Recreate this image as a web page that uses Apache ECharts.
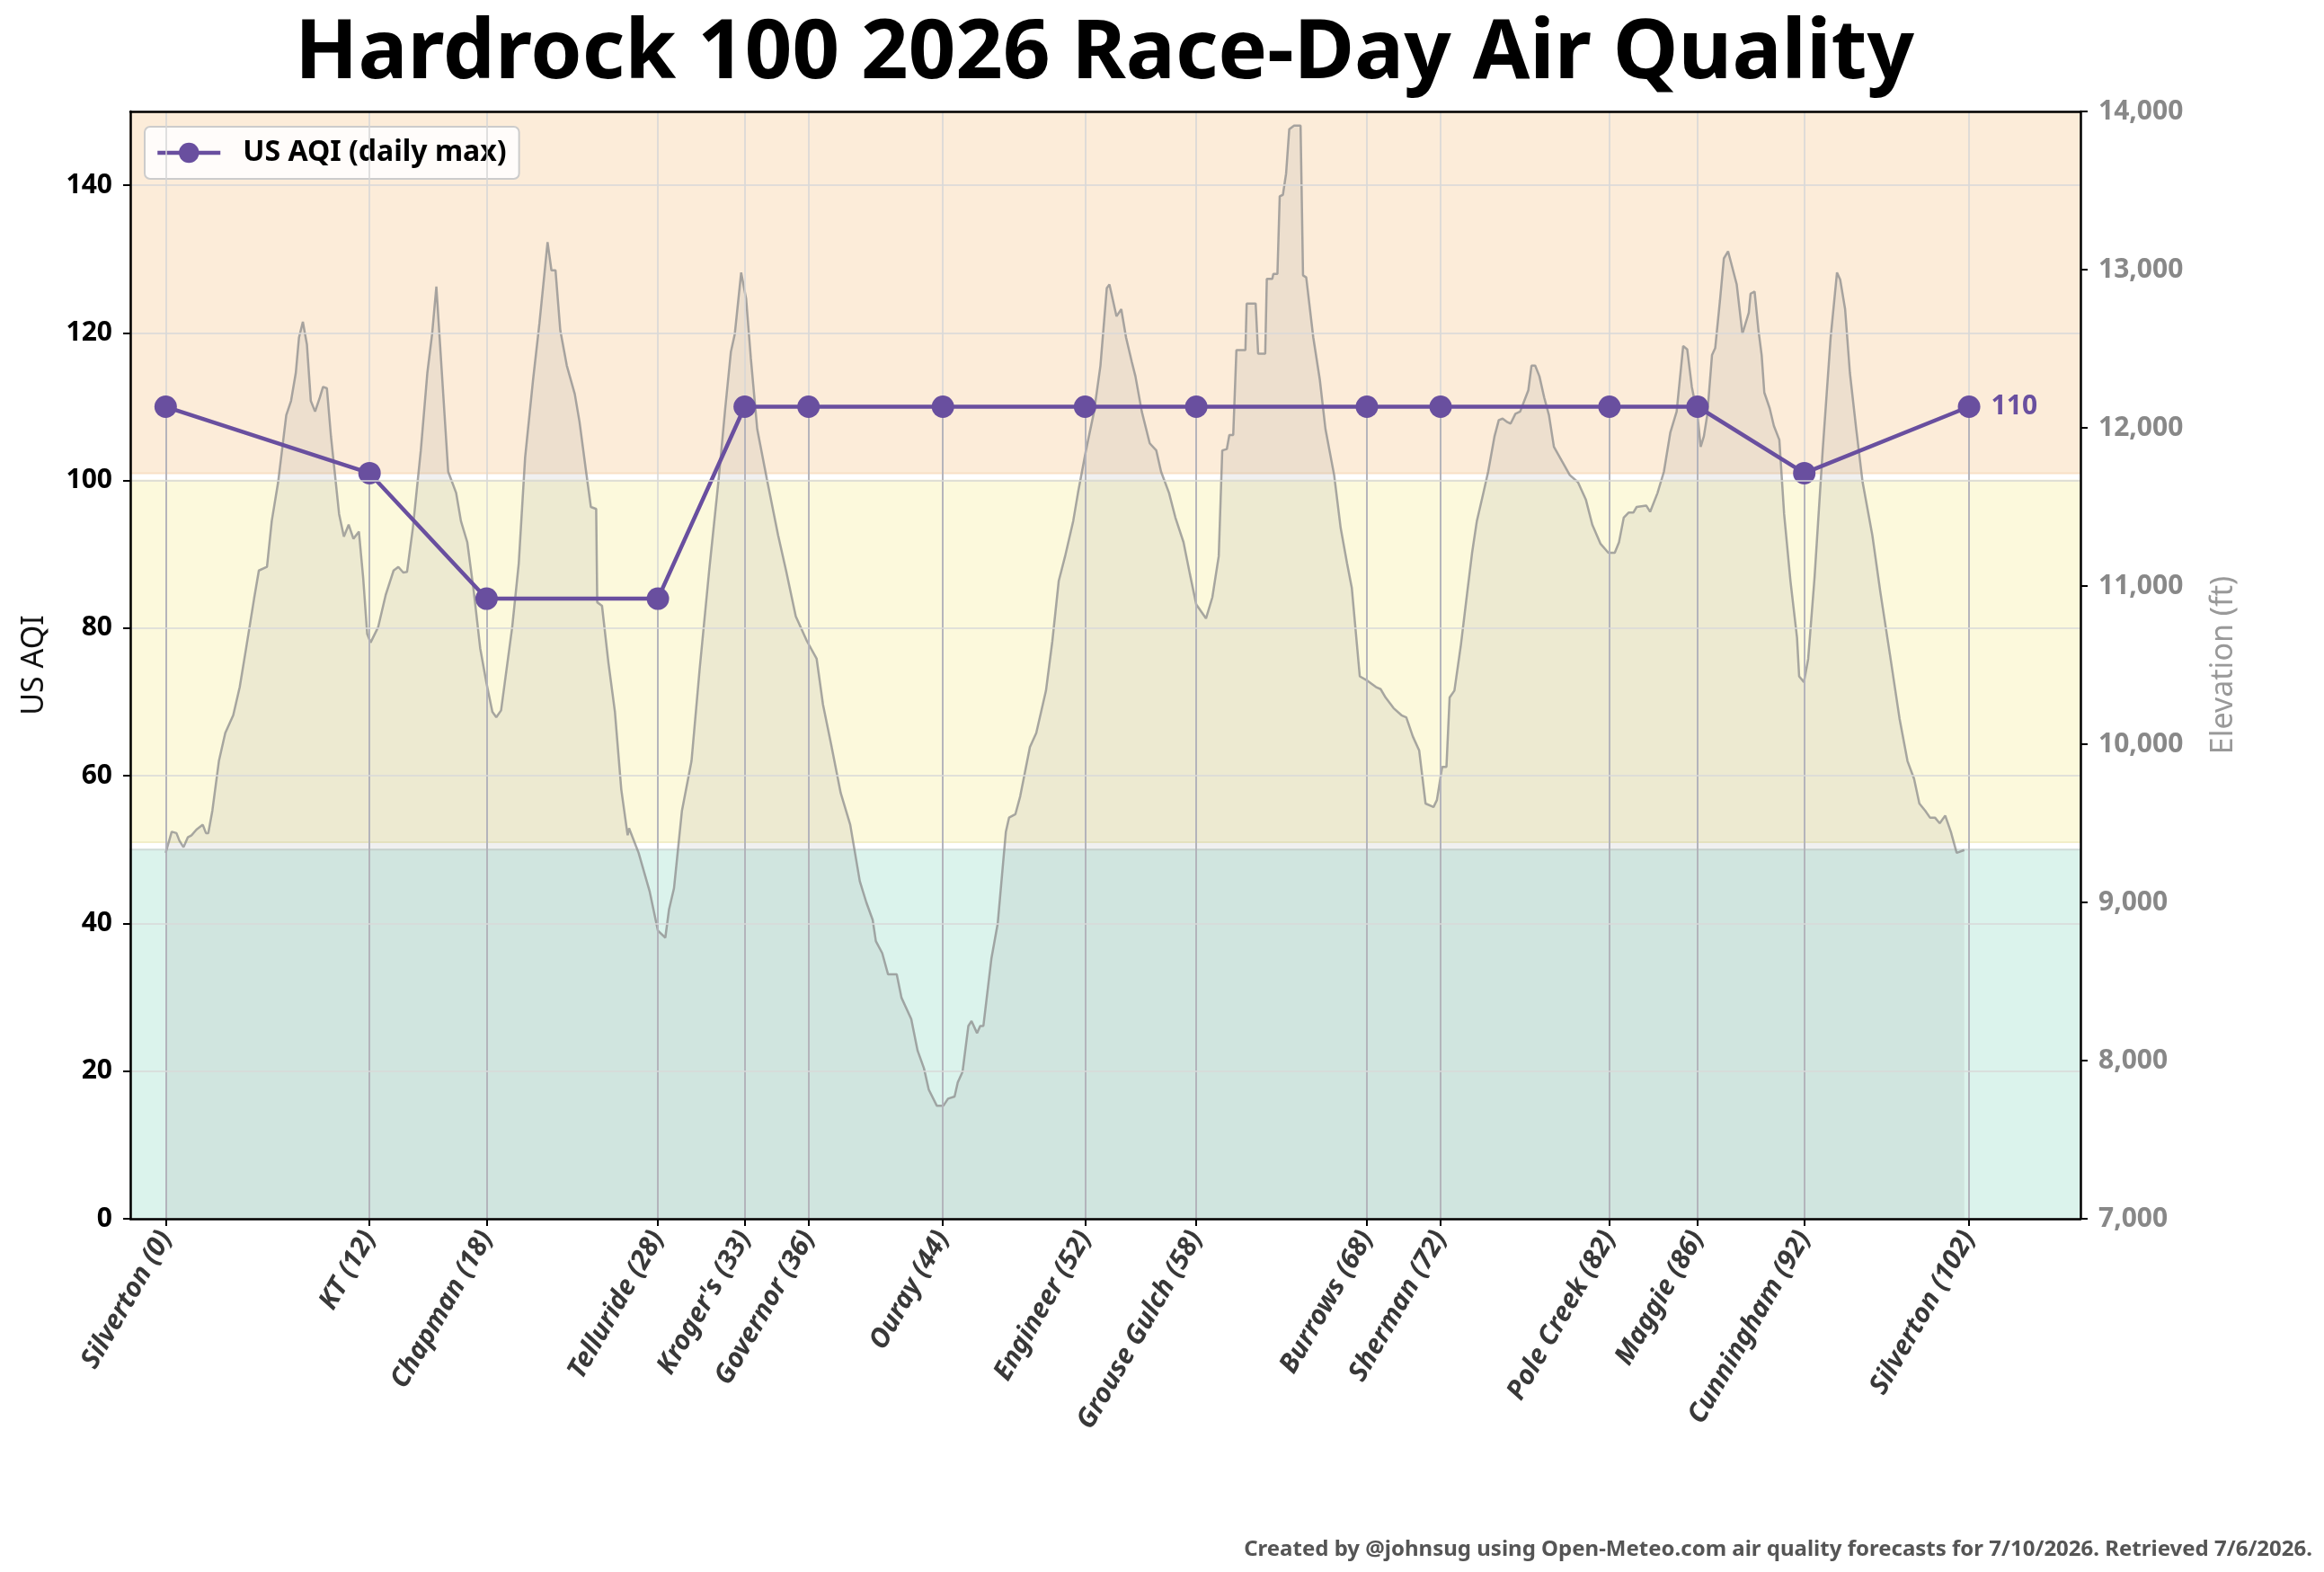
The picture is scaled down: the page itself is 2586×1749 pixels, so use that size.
<!DOCTYPE html>
<html>
<head>
<meta charset="utf-8">
<script src="https://cdn.jsdelivr.net/npm/echarts@6/dist/echarts.min.js"></script>
<style>
  html, body { margin: 0; padding: 0; background: #fff; }
  #main { width: 2586px; height: 1749px; }
</style>
</head>
<body>
<div id="main"></div>
<script>
// aid stations: name, mile position on the course, daily max US AQI
const stationNames = ['Silverton (0)', 'KT (12)', 'Chapman (18)', 'Telluride (28)', "Kroger's (33)",
  'Governor (36)', 'Ouray (44)', 'Engineer (52)', 'Grouse Gulch (58)', 'Burrows (68)', 'Sherman (72)',
  'Pole Creek (82)', 'Maggie (86)', 'Cunningham (92)', 'Silverton (102)'];
const stationMiles = [0, 11.53, 18.15, 27.84, 32.75, 36.36, 43.96, 52.0, 58.29, 67.94, 72.11, 81.66, 86.64, 92.68, 102.0];
const aqiValues = [110, 101, 84, 84, 110, 110, 110, 110, 110, 110, 110, 110, 110, 101, 110];

// course elevation profile
const elevMiles = [0, 0.34, 0.61, 0.78, 1.01, 1.25, 1.46, 1.74, 2.1, 2.28, 2.41, 2.64, 3.01, 3.37, 3.82, 4.19, 4.55, 5.0, 5.27, 5.73,
  6.0, 6.36, 6.82, 7.09, 7.36, 7.54, 7.76, 7.99, 8.21, 8.45, 8.72, 8.9, 9.12, 9.35, 9.81, 10.08, 10.35, 10.62, 10.93, 11.17,
  11.4, 11.59, 12.02, 12.44, 12.89, 13.16, 13.44, 13.65, 13.98, 14.43, 14.8, 15.07, 15.31, 15.52, 15.98, 16.43, 16.7, 17.06, 17.43, 17.79,
  18.15, 18.48, 18.7, 18.97, 19.6, 19.97, 20.33, 20.78, 21.14, 21.6, 21.82, 22.05, 22.32, 22.69, 23.14, 23.41, 23.78, 24.05, 24.35, 24.41,
  24.68, 25.04, 25.41, 25.77, 26.13, 26.21, 26.75, 27.38, 27.84, 28.26, 28.47, 28.75, 29.2, 29.74, 30.2, 30.74, 31.28, 31.65, 31.97, 32.19,
  32.55, 32.83, 33.1, 33.46, 34.0, 34.64, 35.09, 35.64, 36.27, 36.82, 37.18, 37.63, 38.18, 38.72, 39.26, 39.63, 39.99, 40.17, 40.53, 40.86,
  41.35, 41.62, 42.17, 42.53, 42.89, 43.16, 43.62, 43.98, 44.25, 44.62, 44.8, 45.07, 45.4, 45.58, 45.89, 46.07, 46.25, 46.7, 47.06, 47.52,
  47.7, 48.06, 48.33, 48.88, 49.24, 49.79, 50.15, 50.51, 50.87, 51.33, 51.6, 52.05, 52.51, 52.87, 53.23, 53.38, 53.6, 53.78, 54.05, 54.32,
  54.65, 54.85, 55.21, 55.66, 56.03, 56.3, 56.75, 57.11, 57.57, 57.93, 58.29, 58.84, 59.2, 59.56, 59.76, 60.02, 60.16, 60.38, 60.56, 61.07,
  61.14, 61.65, 61.79, 62.19, 62.28, 62.59, 62.65, 62.88, 63.01, 63.19, 63.37, 63.55, 63.82, 64.19, 64.33, 64.51, 64.91, 65.28, 65.6, 66.09,
  66.46, 66.82, 67.09, 67.54, 67.91, 68.45, 68.72, 69.0, 69.45, 69.9, 70.17, 70.54, 70.9, 71.26, 71.71, 71.9, 72.2, 72.44, 72.62, 72.89,
  73.26, 73.62, 73.89, 74.16, 74.53, 74.8, 75.16, 75.4, 75.62, 75.89, 76.07, 76.34, 76.61, 77.07, 77.25, 77.46, 77.7, 77.97, 78.24, 78.52,
  78.97, 79.42, 79.88, 80.33, 80.69, 81.15, 81.6, 81.96, 82.2, 82.47, 82.74, 83.01, 83.2, 83.74, 83.96, 84.38, 84.74, 85.1, 85.46, 85.83,
  86.06, 86.32, 86.64, 86.82, 87.0, 87.19, 87.46, 87.64, 87.91, 88.13, 88.37, 88.55, 88.86, 89.18, 89.54, 89.64, 89.87, 90.09, 90.27, 90.42,
  90.72, 90.96, 91.27, 91.54, 91.9, 92.27, 92.39, 92.66, 92.9, 93.26, 93.72, 94.17, 94.53, 94.71, 94.99, 95.26, 95.62, 95.98, 96.53, 96.98,
  97.53, 98.07, 98.52, 98.89, 99.19, 99.52, 99.79, 100.07, 100.34, 100.65, 100.97, 101.3, 101.73];
const elevFeet = [9313, 9447, 9438, 9390, 9349, 9411, 9424, 9460, 9491, 9438, 9438, 9580, 9893, 10071, 10183, 10362, 10607, 10920, 11098, 11121,
  11411, 11656, 12080, 12170, 12348, 12571, 12670, 12527, 12170, 12103, 12192, 12259, 12250, 11946, 11455, 11313, 11388, 11299, 11344, 11054,
  10697, 10643, 10741, 10942, 11098, 11121, 11085, 11089, 11366, 11857, 12348, 12594, 12893, 12527, 11723, 11589, 11411, 11277, 10964, 10607,
  10384, 10205, 10170, 10214, 10741, 11143, 11813, 12304, 12661, 13174, 12996, 12996, 12616, 12393, 12214, 12036, 11723, 11500, 11487, 10897,
  10875, 10518, 10205, 9714, 9424, 9469, 9313, 9067, 8822, 8777, 8956, 9089, 9580, 9893, 10473, 11098, 11679, 12125, 12482, 12594,
  12982, 12817, 12438, 11991, 11679, 11321, 11098, 10808, 10652, 10540, 10250, 10004, 9692, 9491, 9134, 9000, 8889, 8755, 8679, 8545,
  8545, 8397, 8263, 8063, 7951, 7817, 7714, 7714, 7759, 7773, 7862, 7929, 8219, 8250, 8174, 8219, 8219, 8643, 8866, 9446,
  9536, 9558, 9670, 9982, 10071, 10339, 10652, 11031, 11188, 11411, 11589, 11857, 12103, 12393, 12884, 12906, 12795, 12705, 12750, 12571,
  12415, 12326, 12103, 11902, 11857, 11723, 11589, 11433, 11277, 11076, 10884, 10795, 10929, 11188, 11857, 11866, 11955, 11955, 12491, 12491,
  12786, 12786, 12469, 12469, 12942, 12942, 12973, 12973, 13464, 13473, 13607, 13888, 13911, 13911, 12964, 12951, 12571, 12304, 11991, 11701,
  11366, 11143, 10987, 10429, 10406, 10362, 10348, 10295, 10228, 10183, 10170, 10049, 9960, 9625, 9603, 9647, 9857, 9857, 10295, 10339,
  10630, 10964, 11210, 11411, 11589, 11723, 11947, 12049, 12058, 12036, 12027, 12089, 12103, 12237, 12393, 12393, 12326, 12192, 12080, 11880,
  11790, 11701, 11656, 11545, 11388, 11268, 11210, 11210, 11277, 11433, 11464, 11464, 11500, 11509, 11469, 11589, 11723, 11969, 12103, 12518,
  12496, 12259, 12080, 11880, 11947, 12080, 12460, 12504, 12804, 13071, 13116, 13040, 12906, 12594, 12728, 12848, 12862, 12616, 12460, 12223,
  12125, 12013, 11924, 11455, 11031, 10674, 10429, 10393, 10540, 11054, 11857, 12571, 12982, 12938, 12750, 12348, 11991, 11656, 11321, 10964,
  10563, 10161, 9893, 9781, 9625, 9580, 9536, 9536, 9500, 9549, 9447, 9313, 9331];

// AQI category bands (good / moderate / unhealthy for sensitive groups)
const bandRanges = [[0, 50], [51, 100], [101, 150]];
const bandColors = ['#dbf3ec', '#fcf9dc', '#fcecd9'];
const bandEdges = ['#cfdcd8', '#f2eec8', '#f8e0c6'];

const aqiTicks = { min: 0, max: 150, interval: 20 };
const elevTicks = { min: 7000, max: 14000, interval: 1000 };

const purple = '#694f9f';
const sans = '"Noto Sans", "Open Sans", sans-serif';

let myChart = echarts.init(document.getElementById('main'), null, { renderer: 'canvas' });

const elevData = elevMiles.map((m, i) => [m, elevFeet[i]]);
const last = stationMiles.length - 1;
const aqiData = stationMiles.map((m, i) => {
    if (i === last) {
        return {
            value: [m, aqiValues[i]],
            label: {
                show: true, position: 'right', distance: 12, formatter: String(aqiValues[i]),
                color: purple, fontWeight: 'bold', fontSize: 30, fontFamily: sans
            }
        };
    }
    return [m, aqiValues[i]];
});

let option = {
    animation: false,
    backgroundColor: '#ffffff',
    title: [
        {
            text: 'Hardrock 100 2026 Race-Day Air Quality',
            left: 1224, top: 10, textAlign: 'center',
            textStyle: { fontFamily: sans, fontWeight: 'bold', fontSize: 92, color: '#000' }
        },
        {
            text: 'Created by @johnsug using Open-Meteo.com air quality forecasts for 7/10/2026. Retrieved 7/6/2026.',
            right: 8, top: 1707,
            textStyle: { fontFamily: sans, fontWeight: 'bold', fontSize: 24, color: '#555' }
        }
    ],
    legend: {
        left: 161, top: 141,
        data: ['US AQI (daily max)'],
        itemWidth: 70, itemHeight: 28,
        padding: [13, 14, 13, 12],
        backgroundColor: 'rgba(255,255,255,0.85)',
        borderColor: '#cccccc', borderWidth: 2, borderRadius: 6,
        lineStyle: { width: 4.5, color: purple },
        itemStyle: { color: purple },
        textStyle: { fontFamily: sans, fontWeight: 'bold', fontSize: 32, color: '#000', padding: [0, 0, 0, 20] }
    },
    grid: { left: 145, right: 271, top: 124, bottom: 393, outerBoundsMode: 'none' },
    xAxis: [
        {
            type: 'value', min: -2, max: 108.3, z: 10,
            axisLine: { show: true, onZero: false, lineStyle: { color: '#000', width: 2.5 } },
            axisTick: { show: true, customValues: stationMiles, length: 8, lineStyle: { color: '#000', width: 2 } },
            axisLabel: {
                show: true, customValues: stationMiles, rotate: 60, margin: 16,
                fontFamily: sans, fontStyle: 'italic', fontWeight: 'bold', fontSize: 30, color: '#383838',
                formatter: v => { const i = stationMiles.indexOf(v); return i >= 0 ? stationNames[i] : ''; }
            },
            splitLine: { show: false }
        },
        {
            type: 'value', min: -2, max: 108.3, position: 'top', z: 10,
            axisLine: { show: true, onZero: false, lineStyle: { color: '#000', width: 2.5 } },
            axisTick: { show: false }, axisLabel: { show: false }, splitLine: { show: false }
        }
    ],
    yAxis: [
        {
            type: 'value', min: aqiTicks.min, max: aqiTicks.max, interval: aqiTicks.interval, z: 10,
            name: 'US AQI', nameLocation: 'middle', nameRotate: 90, nameGap: 90,
            nameTextStyle: { fontFamily: sans, fontSize: 34, color: '#111' },
            axisLine: { show: true, onZero: false, lineStyle: { color: '#000', width: 2.5 } },
            axisTick: { show: true, length: 8, lineStyle: { color: '#000', width: 2 } },
            axisLabel: { showMaxLabel: false, margin: 20, fontFamily: sans, fontWeight: 'bold', fontSize: 30, color: '#000' },
            splitLine: { show: true, lineStyle: { color: '#d8d8d8', width: 1.5 } }
        },
        {
            type: 'value', min: elevTicks.min, max: elevTicks.max, interval: elevTicks.interval, position: 'right', z: 10,
            name: 'Elevation (ft)', nameLocation: 'middle', nameRotate: 90, nameGap: 142,
            nameTextStyle: { fontFamily: sans, fontSize: 34, color: '#999' },
            axisLine: { show: true, onZero: false, lineStyle: { color: '#000', width: 2.5 } },
            axisTick: { show: true, length: 8, lineStyle: { color: '#000', width: 2 } },
            axisLabel: {
                margin: 20, fontFamily: sans, fontWeight: 'bold', fontSize: 30, color: '#888',
                formatter: v => v.toLocaleString('en-US')
            },
            splitLine: { show: false }
        }
    ],
    series: [
        {
            name: 'bands', type: 'line', data: [], z: 0, silent: true,
            markArea: {
                silent: true,
                data: bandRanges.map((r, i) => [
                    { yAxis: r[0], itemStyle: { color: bandColors[i], borderColor: bandEdges[i], borderWidth: 2 } },
                    { yAxis: r[1] }
                ])
            }
        },
        {
            name: 'grid', type: 'line', data: [], z: 1, silent: true,
            markLine: {
                silent: true, symbol: 'none', label: { show: false },
                lineStyle: { color: '#d6d6d6', width: 1.5, type: 'solid' },
                data: stationMiles.map(m => ({ xAxis: m }))
            }
        },
        {
            name: 'Elevation', type: 'line', xAxisIndex: 0, yAxisIndex: 1, z: 2, silent: true,
            data: elevData, showSymbol: false, smooth: false,
            lineStyle: { color: 'rgba(140,140,140,0.75)', width: 2.5 },
            areaStyle: { color: 'rgba(128,128,128,0.17)', origin: 'start' }
        },
        {
            name: 'stems', type: 'line', data: [], z: 3, silent: true,
            markLine: {
                silent: true, symbol: 'none', label: { show: false },
                lineStyle: { color: 'rgba(170,170,180,0.8)', width: 2, type: 'solid' },
                data: stationMiles.map((m, i) => [{ coord: [m, 0] }, { coord: [m, aqiValues[i]] }])
            }
        },
        {
            name: 'US AQI (daily max)', type: 'line', z: 5,
            data: aqiData,
            symbol: 'circle', symbolSize: 25,
            itemStyle: { color: purple },
            lineStyle: { color: purple, width: 4.5 }
        }
    ]
};
myChart.setOption(option);
</script>
</body>
</html>
